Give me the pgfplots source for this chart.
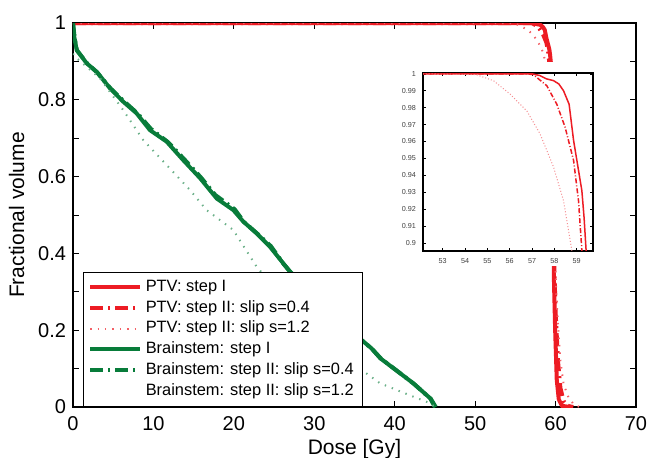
\documentclass[border=0pt]{standalone}
\usepackage{fontspec}
\setmainfont{Liberation Sans}
\usepackage{pgfplots}
\pgfplotsset{compat=1.18}
\usepackage{pgfplotstable}

\definecolor{ptvred}{RGB}{237,28,36}
\definecolor{bsgreen}{RGB}{8,124,58}

% dose [Gy] vs fractional volume
\pgfplotstableread{
x y
0 1
57.0 1
57.35 0.999
57.65 0.997
57.96 0.996
58.2 0.994
58.41 0.990
58.66 0.982
58.86 0.9606
59.08 0.943
59.23 0.931
59.33 0.915
59.42 0.8957
59.55 0.80
59.68 0.55
59.8 0.33
59.95 0.2
60.15 0.07
60.4 0.02
60.8 0.003
61.8 0
}\ptvA
\pgfplotstableread{
x y
0 1
56.8 1
57.06 0.9995
57.66 0.993
58.11 0.982
58.48 0.9685
58.86 0.9488
59.08 0.925
59.23 0.8957
59.5 0.7
59.8 0.4
60.0 0.25
60.3 0.12
60.6 0.05
61.0 0.015
61.5 0.003
62.2 0
}\ptvB
\pgfplotstableread{
x y
0 1
52.7 0.9999
54.5 0.9995
55.27 0.996
56.02 0.988
56.77 0.978
57.36 0.9645
57.96 0.945
58.41 0.925
58.78 0.8957
59.2 0.8
59.6 0.6
59.9 0.4
60.2 0.25
60.6 0.12
61.0 0.06
61.6 0.025
62.3 0.006
63.0 0
}\ptvC
\pgfplotstableread{
x y
0 1
0.15 0.965
0.46 0.930
1.7 0.895
2.95 0.873
4.6 0.830
6.25 0.795
7.9 0.765
9.57 0.721
11.65 0.691
13.7 0.643
15.8 0.596
17.87 0.543
19.93 0.513
21.17 0.483
22.84 0.452
24.5 0.417
26.15 0.374
27.0 0.352
30.0 0.30
33.0 0.24
35.0 0.19
37.1 0.153
38.2 0.127
40.66 0.088
42.3 0.062
44.4 0.023
45.0 0
}\bsA
\pgfplotstableread{
x y
0 1
0.2 0.962
0.5 0.928
1.8 0.894
3.0 0.871
4.7 0.829
6.3 0.797
8.0 0.765
9.7 0.724
11.8 0.690
13.8 0.646
15.9 0.598
17.7 0.552
20.1 0.515
21.3 0.481
23.0 0.450
24.6 0.419
26.2 0.372
27.1 0.350
30.1 0.298
33.1 0.238
35.1 0.188
37.2 0.151
38.3 0.126
40.8 0.086
42.4 0.060
44.5 0.021
45.1 0
}\bsB
\pgfplotstableread{
x y
0 0.92
0.25 0.912
3.36 0.856
6.25 0.773
8.74 0.695
11.65 0.630
14.55 0.565
16.6 0.513
19.93 0.461
22.84 0.365
26.0 0.29
30.0 0.20
35.0 0.11
38.17 0.062
42.3 0.027
44.4 0.010
45.0 0
}\bsC

\begin{document}
\begin{tikzpicture}
\path[use as bounding box] (-36.5pt,-25pt) rectangle (287pt,203.5pt);
\begin{axis}[
    name=main, at={(0,0)}, anchor=south west,
    scale only axis, width=281.5pt, height=192pt,
    xmin=0, xmax=70, ymin=0, ymax=1,
    xtick={0,10,20,30,40,50,60,70},
    ytick={0,0.1,0.2,0.3,0.4,0.5,0.6,0.7,0.8,0.9,1},
    yticklabels={0,,0.2,,0.4,,0.6,,0.8,,1},
    tick align=inside, major tick length=3pt,
    tick style={black, line width=0.5pt},
    axis line style={line width=0.7pt},
    /pgf/number format/assume math mode=true,
    tick label style={font=\fontsize{10}{12}\selectfont},
    xticklabel style={yshift=-1pt},
    label style={font=\fontsize{10.5}{12}\selectfont},
    xlabel={Dose [Gy]}, ylabel={Fractional volume},
    xlabel style={yshift=2.5pt},
    legend cell align=left,
    legend image code/.code={\draw[#1] (0pt,0pt) -- (25pt,0pt);},
    legend style={at={(0.0172,0.352)}, anchor=north west, draw=black,
        line width=0.5pt, fill=white, font=\fontsize{8.2}{9}\selectfont,
        row sep=-0.6pt, inner xsep=2.5pt,
        nodes={inner sep=1.8pt}},
]
\addplot[ptvred, line width=2pt] table {\ptvA};
\addplot[ptvred, line width=2pt, dash pattern=on 6.5pt off 2.5pt on 1pt off 2.5pt] table {\ptvB};
\addplot[ptvred!70, line width=1pt, dash pattern=on 0.7pt off 3pt] table {\ptvC};
\addplot[bsgreen, line width=2pt] table {\bsA};
\addplot[bsgreen, line width=2pt, dash pattern=on 6.5pt off 2.5pt on 1pt off 2.5pt] table {\bsB};
\addplot[bsgreen!60, line width=1pt, dash pattern=on 0.7pt off 3pt, forget plot] table {\bsC};
\addlegendimage{white, line width=0pt}
\legend{PTV: step I, PTV: step II: slip s=0.4, PTV: step II: slip s=1.2,
    Brainstem: step I, Brainstem: step II: slip s=0.4, Brainstem: step II: slip s=1.2}
\end{axis}
\fill[white] (162.5pt,70.5pt) rectangle (263.5pt,172.5pt);
\begin{axis}[
    at={(175pt,78pt)}, anchor=south west,
    scale only axis, width=85pt, height=89pt,
    xmin=52.12, xmax=59.73, ymin=0.8953, ymax=1.0005,
    xtick={53,54,55,56,57,58,59},
    ytick={0.9,0.91,0.92,0.93,0.94,0.95,0.96,0.97,0.98,0.99,1},
    yticklabels={0.9,0.91,0.92,0.93,0.94,0.95,0.96,0.97,0.98,0.99,1},
    tick align=inside, major tick length=1.5pt,
    tick style={black, line width=0.3pt},
    axis line style={line width=0.6pt},
    /pgf/number format/assume math mode=true,
    tick label style={font=\fontsize{3.6}{4}\selectfont, text=black!75},
]
\addplot[ptvred, line width=0.75pt] table {\ptvA};
\addplot[ptvred, line width=0.75pt, dash pattern=on 2.5pt off 1pt on 0.5pt off 1pt] table {\ptvB};
\addplot[ptvred!50, line width=0.5pt, dash pattern=on 0.5pt off 1pt] table {\ptvC};
\end{axis}
\end{tikzpicture}
\end{document}
